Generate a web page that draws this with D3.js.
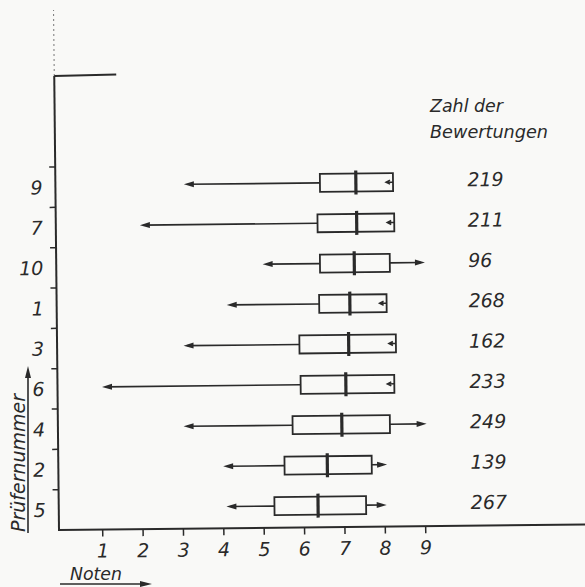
<!DOCTYPE html>
<html>
<head>
<meta charset="utf-8">
<script src="https://cdn.jsdelivr.net/npm/d3@7"></script>
<style>
  body { margin: 0; background: #f9f9f7; }
  svg { display: block; }
  text { font-family: "DejaVu Sans", sans-serif; font-style: italic; fill: #2a2a2a; }
</style>
</head>
<body>
<svg id="chart" width="585" height="587"></svg>
<script>
/* DATA */
const raters = ["9", "7", "10", "1", "3", "6", "4", "2", "5"];
const counts = [219, 211, 96, 268, 162, 233, 249, 139, 267];
const lowEnd = [3.1, 2.0, 5.03, 4.13, 3.05, 1.02, 3.03, 4.0, 4.07];
const q1 = [6.47, 6.4, 6.45, 6.42, 5.92, 5.94, 5.73, 5.52, 5.26];
const median = [7.36, 7.37, 7.3, 7.18, 7.14, 7.06, 6.95, 6.58, 6.34];
const q3 = [8.28, 8.3, 8.18, 8.09, 8.31, 8.26, 8.14, 7.68, 7.53];
// null = no whisker past the box on the right
const highEnd = [null, null, 9.05, null, null, null, 9.05, 8.06, 8.04];
const xTicks = [1, 2, 3, 4, 5, 6, 7, 8, 9];

const ink = "#2a2a2a";

const rows = raters.map((r, i) => ({
  rater: r, count: counts[i], lo: lowEnd[i], q1: q1[i],
  med: median[i], q3: q3[i], hi: highEnd[i]
}));

const svg = d3.select("#chart");

// origin of the axes; the scan is a little tilted so the plot is rotated
const ox = 59, oy = 530;
const g = svg.append("g").attr("transform", `rotate(-0.6, ${ox}, ${oy})`);

const x = d3.scaleLinear().domain([1, 9]).range([102.7, 425.7]);
const y = d3.scaleBand().domain(raters).range([167, oy]);

// axes lines
g.append("line").attr("x1", ox).attr("x2", 592).attr("y1", oy).attr("y2", oy)
  .attr("stroke", ink).attr("stroke-width", 2);
g.append("line").attr("x1", ox).attr("x2", ox).attr("y1", oy + 1).attr("y2", 76)
  .attr("stroke", ink).attr("stroke-width", 2);
g.append("line").attr("x1", ox).attr("x2", ox).attr("y1", 76).attr("y2", 10)
  .attr("stroke", "#777").attr("stroke-width", 1).attr("stroke-dasharray", "2,3");
g.append("line").attr("x1", ox).attr("x2", 121).attr("y1", 76).attr("y2", 75)
  .attr("stroke", ink).attr("stroke-width", 2);

// x ticks + labels
const xg = g.append("g");
xg.selectAll("line").data(xTicks).join("line")
  .attr("x1", d => x(d)).attr("x2", d => x(d))
  .attr("y1", oy).attr("y2", oy + 7)
  .attr("stroke", ink).attr("stroke-width", 1.5);
xg.selectAll("text").data(xTicks).join("text")
  .attr("x", d => x(d)).attr("y", oy + 28)
  .attr("text-anchor", "middle").attr("font-size", 19)
  .text(d => d);

// y ticks (band boundaries) + labels
const yg = g.append("g");
yg.selectAll("line").data(raters).join("line")
  .attr("x1", ox - 6).attr("x2", ox)
  .attr("y1", d => y(d)).attr("y2", d => y(d))
  .attr("stroke", ink).attr("stroke-width", 1.5);
yg.selectAll("text").data(raters).join("text")
  .attr("x", 46).attr("y", d => y(d) + y.bandwidth() / 2 + 7)
  .attr("text-anchor", "end").attr("font-size", 19)
  .text(d => d);

// boxes
const boxH = 18;
const bg = g.append("g").selectAll("g").data(rows).join("g")
  .attr("transform", d => `translate(0, ${y(d.rater) + y.bandwidth() / 2 - 1.5})`);

// left whisker + arrow
bg.append("line")
  .attr("x1", d => x(d.lo) + 4).attr("x2", d => x(d.q1))
  .attr("y1", 0).attr("y2", 0)
  .attr("stroke", ink).attr("stroke-width", 1.6);
bg.append("path")
  .attr("d", d => `M${x(d.lo)},0 L${x(d.lo) + 10},-3 L${x(d.lo) + 10},3 Z`)
  .attr("fill", ink);

// right whisker + arrow where present
const withHi = bg.filter(d => d.hi != null);
withHi.append("line")
  .attr("x1", d => x(d.q3)).attr("x2", d => x(d.hi) - 4)
  .attr("y1", 0).attr("y2", 0)
  .attr("stroke", ink).attr("stroke-width", 1.6);
withHi.append("path")
  .attr("d", d => `M${x(d.hi)},0 L${x(d.hi) - 10},-3 L${x(d.hi) - 10},3 Z`)
  .attr("fill", ink);

// little inward notch where the top end is the box edge
bg.filter(d => d.hi == null).append("path")
  .attr("d", d => `M${x(d.q3) - 7},0 L${x(d.q3)},0 M${x(d.q3) - 3},-2 L${x(d.q3) - 7},0 L${x(d.q3) - 3},2`)
  .attr("stroke", ink).attr("stroke-width", 1.5).attr("fill", "none");

bg.append("rect")
  .attr("x", d => x(d.q1)).attr("width", d => x(d.q3) - x(d.q1))
  .attr("y", -boxH / 2).attr("height", boxH)
  .attr("fill", "none").attr("stroke", ink).attr("stroke-width", 1.8);

bg.append("line")
  .attr("x1", d => x(d.med)).attr("x2", d => x(d.med))
  .attr("y1", -boxH / 2 - 3).attr("y2", boxH / 2 + 3)
  .attr("stroke", ink).attr("stroke-width", 3.2);

// counts
bg.append("text")
  .attr("x", 471).attr("y", 5)
  .attr("font-size", 19)
  .text(d => d.count);

// titles
svg.append("text").attr("x", 430).attr("y", 112)
  .attr("font-size", 17).attr("textLength", 73).attr("lengthAdjust", "spacingAndGlyphs")
  .text("Zahl der");
svg.append("text").attr("x", 430).attr("y", 138)
  .attr("font-size", 17).attr("textLength", 118).attr("lengthAdjust", "spacingAndGlyphs")
  .text("Bewertungen");

svg.append("text")
  .attr("transform", "translate(25, 532) rotate(-90)")
  .attr("font-size", 19).attr("textLength", 138).attr("lengthAdjust", "spacingAndGlyphs")
  .text("Prüfernummer");
svg.append("line").attr("x1", 28).attr("x2", 28).attr("y1", 533).attr("y2", 376)
  .attr("stroke", ink).attr("stroke-width", 1.6);
svg.append("path").attr("d", "M28,366 L25,378 L31,378 Z").attr("fill", ink);

svg.append("text").attr("x", 70).attr("y", 580)
  .attr("font-size", 17).attr("textLength", 52).attr("lengthAdjust", "spacingAndGlyphs")
  .text("Noten");
svg.append("line").attr("x1", 60).attr("x2", 142).attr("y1", 584).attr("y2", 584)
  .attr("stroke", ink).attr("stroke-width", 1.6);
svg.append("path").attr("d", "M152,584 L140,581 L140,587 Z").attr("fill", ink);
</script>
</body>
</html>
